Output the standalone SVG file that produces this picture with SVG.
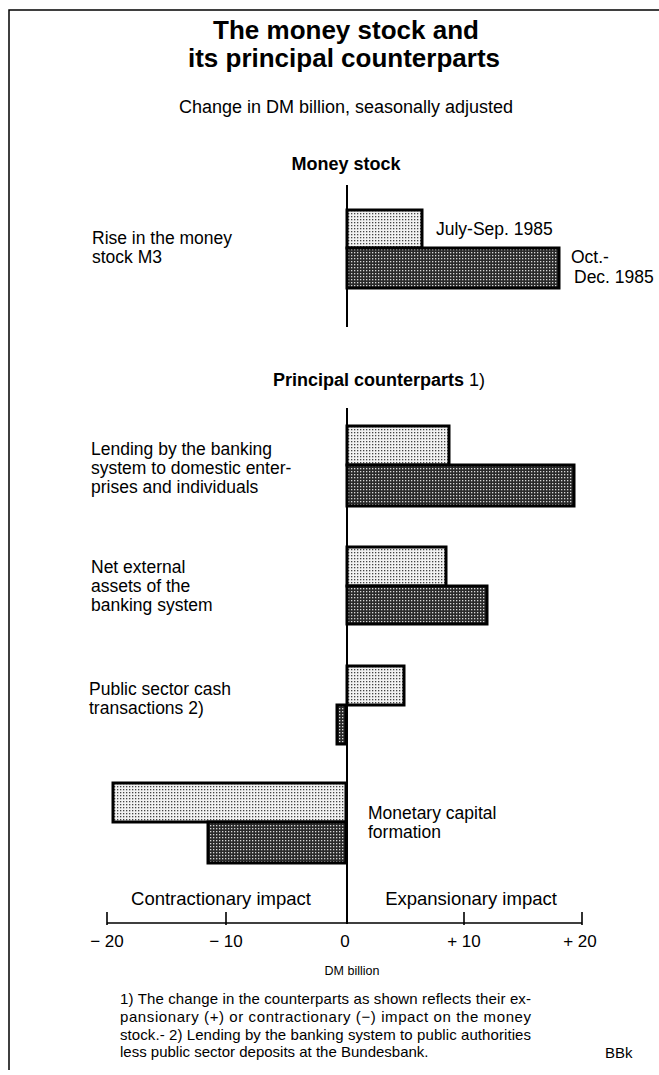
<svg xmlns="http://www.w3.org/2000/svg" width="659" height="1075" viewBox="0 0 659 1075">
<style>
text{font-family:"Liberation Sans",Arial,Helvetica,sans-serif;fill:#000}
.t{font-size:26px;font-weight:bold;text-anchor:middle}
.sub{font-size:18px;text-anchor:middle}
.h{font-size:18px;font-weight:bold}
.lb{font-size:17.5px}
.imp{font-size:18.5px;text-anchor:middle}
.tk{font-size:17px;text-anchor:middle}
.fn{font-size:15px}
.bl{fill:url(#lt);stroke:#000;stroke-width:3}
.bd{fill:url(#dk);stroke:#000;stroke-width:3}
.ax{stroke:#000;stroke-width:2;fill:none}
</style>
<defs>
<pattern id="lt" width="3" height="3" patternUnits="userSpaceOnUse"><rect width="3" height="3" fill="#f2f2f2"/><rect width="1.3" height="1.3" fill="#444"/></pattern>
<pattern id="dk" width="3" height="3" patternUnits="userSpaceOnUse"><rect width="3" height="3" fill="#2a2a2a"/><rect width="1.3" height="1.3" fill="#d8d8d8"/></pattern>
</defs>
<rect width="659" height="1075" fill="#fff"/>
<g id="frame"><path d="M9 1070V10H659" stroke="#000" stroke-width="1.5" fill="none"/></g>
<g id="title">
<text class="t" x="346" y="39">The money stock and</text>
<text class="t" x="344" y="67">its principal counterparts</text>
<text class="sub" x="346" y="113">Change in DM billion, seasonally adjusted</text>
</g>
<g id="money-stock">
<text class="h" x="346" y="170" text-anchor="middle">Money stock</text>
<text class="lb" x="92" y="244">Rise in the money</text>
<text class="lb" x="92" y="263">stock M3</text>
<rect class="bl" x="347" y="210" width="75" height="38"/>
<rect class="bd" x="347" y="248" width="212" height="40"/>
<text class="lb" x="436" y="235">July-Sep. 1985</text>
<text class="lb" x="571" y="263">Oct.-</text>
<text class="lb" x="574" y="283">Dec. 1985</text>
</g>
<g id="counterparts-heading">
<text class="h" x="273" y="386">Principal counterparts<tspan font-weight="normal"> 1)</tspan></text>
</g>
<g id="lending">
<text class="lb" x="91" y="455">Lending by the banking</text>
<text class="lb" x="91" y="474">system to domestic enter-</text>
<text class="lb" x="91" y="493">prises and individuals</text>
<rect class="bl" x="347" y="426" width="102" height="39"/>
<rect class="bd" x="347" y="465" width="227" height="41"/>
</g>
<g id="net-external">
<text class="lb" x="91" y="573">Net external</text>
<text class="lb" x="91" y="592">assets of the</text>
<text class="lb" x="91" y="611">banking system</text>
<rect class="bl" x="347" y="547" width="99" height="39"/>
<rect class="bd" x="347" y="586" width="140" height="38"/>
</g>
<g id="public-sector">
<text class="lb" x="89" y="695">Public sector cash</text>
<text class="lb" x="89" y="714">transactions 2)</text>
<rect class="bl" x="347" y="666" width="57" height="39"/>
<rect class="bd" x="337" y="705" width="9" height="39"/>
</g>
<g id="monetary-capital">
<text class="lb" x="368" y="819">Monetary capital</text>
<text class="lb" x="368" y="838">formation</text>
<rect class="bl" x="113" y="783" width="233" height="39"/>
<rect class="bd" x="208" y="822" width="138" height="41"/>
</g>
<g id="axes">
<path class="ax" d="M347 185V327"/>
<path class="ax" d="M347 408V924"/>
<path d="M107 923H582M107 912V925M226 912V925M464 912V925M582 912V925" stroke="#000" stroke-width="1.6" fill="none"/>
<text class="imp" x="221" y="905">Contractionary impact</text>
<text class="imp" x="471" y="905">Expansionary impact</text>
<text class="tk" x="107" y="947">− 20</text>
<text class="tk" x="226" y="947">− 10</text>
<text class="tk" x="345" y="947">0</text>
<text class="tk" x="464" y="947">+ 10</text>
<text class="tk" x="580" y="947">+ 20</text>
<text x="352" y="975" font-size="12.5" text-anchor="middle">DM billion</text>
</g>
<g id="footnote">
<text class="fn" x="120" y="1004" textLength="411" lengthAdjust="spacing">1) The change in the counterparts as shown reflects their ex-</text>
<text class="fn" x="120" y="1022" textLength="411" lengthAdjust="spacing">pansionary (+) or contractionary (−) impact on the money</text>
<text class="fn" x="120" y="1040" textLength="411" lengthAdjust="spacing">stock.- 2) Lending by the banking system to public authorities</text>
<text class="fn" x="120" y="1057">less public sector deposits at the Bundesbank.</text>
<text class="fn" x="605" y="1058">BBk</text>
</g>
</svg>
